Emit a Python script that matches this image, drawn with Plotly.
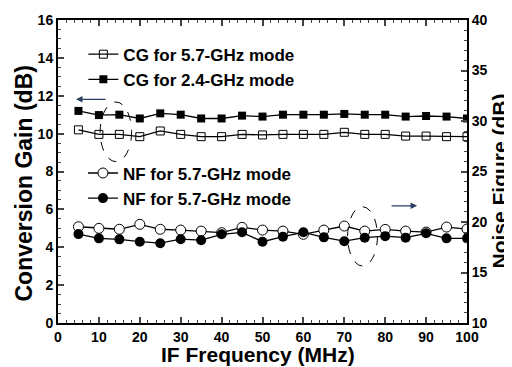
import plotly.graph_objects as go

freq = [5, 10, 15, 20, 25, 30, 35, 40, 45, 50, 55, 60, 65, 70, 75, 80, 85, 90, 95, 100]
cg_57 = [10.2, 9.96, 9.96, 9.84, 10.14, 9.96, 9.84, 9.84, 9.96, 9.93, 9.96, 9.96, 9.96, 10.07, 9.96, 9.96, 9.87, 9.87, 9.84, 9.84]
cg_24 = [11.2, 10.98, 11.0, 10.8, 11.07, 11.0, 10.8, 10.8, 10.95, 10.9, 11.0, 11.0, 11.0, 11.04, 11.0, 11.0, 10.9, 10.93, 10.9, 10.8]
nf_a = [19.53, 19.37, 19.28, 19.77, 19.28, 19.2, 19.1, 18.94, 19.47, 19.2, 19.1, 18.78, 19.2, 19.6, 19.1, 19.27, 19.1, 19.0, 19.5, 19.3]
nf_b = [18.8, 18.38, 18.28, 18.05, 17.9, 18.3, 18.2, 18.78, 18.98, 18.05, 18.55, 18.98, 18.48, 18.1, 18.45, 18.6, 18.45, 18.88, 18.38, 18.38]

FONT = "Liberation Sans, Arial, sans-serif"

fig = go.Figure()
fig.add_trace(go.Scatter(x=freq, y=cg_57, mode="lines+markers", name="<b>CG for 5.7-GHz mode</b>",
                         line=dict(color="black", width=1.3),
                         marker=dict(symbol="square-open", size=8, color="black", line=dict(width=1)),
                         legend="legend"))
fig.add_trace(go.Scatter(x=freq, y=cg_24, mode="lines+markers", name="<b>CG for 2.4-GHz mode</b>",
                         line=dict(color="black", width=1.3),
                         marker=dict(symbol="square", size=8, color="black"),
                         legend="legend"))
fig.add_trace(go.Scatter(x=freq, y=nf_a, mode="lines+markers", name="<b>NF for 5.7-GHz mode</b>",
                         yaxis="y2", line=dict(color="black", width=1.3),
                         marker=dict(symbol="circle", size=10, color="white", line=dict(width=1, color="black")),
                         legend="legend2"))
fig.add_trace(go.Scatter(x=freq, y=nf_b, mode="lines+markers", name="<b>NF for 5.7-GHz mode</b>",
                         yaxis="y2", line=dict(color="black", width=1.3),
                         marker=dict(symbol="circle", size=10, color="black"),
                         legend="legend2"))

# ellipses
fig.add_shape(type="circle", xref="x", yref="y", x0=10.3, x1=18.0, y0=8.52, y1=11.67,
              line=dict(color="black", width=1, dash="dash"))
fig.add_shape(type="circle", xref="x", yref="y", x0=70.8, x1=78.1, y0=3.01, y1=6.14,
              line=dict(color="black", width=1, dash="dash"))

# arrows
fig.add_annotation(x=4.4, y=11.81, ax=12, ay=11.81, xref="x", yref="y", axref="x", ayref="y",
                   showarrow=True, arrowhead=2, arrowsize=1, arrowwidth=1.3, text="")
fig.add_annotation(x=87.8, y=6.19, ax=81.2, ay=6.19, xref="x", yref="y", axref="x", ayref="y",
                   showarrow=True, arrowhead=2, arrowsize=1, arrowwidth=1.3, text="")

# axis titles as annotations for precise placement
fig.add_annotation(text="<b>Conversion Gain (dB)</b>", xref="paper", yref="paper", x=0, y=0.5,
                   xanchor="center", yanchor="middle", xshift=-35, yshift=-12, textangle=-90,
                   showarrow=False, font=dict(family=FONT, size=23, color="black"))
fig.add_annotation(text="<b>Noise Figure (dB)</b>", xref="paper", yref="paper", x=1, y=0.5,
                   xanchor="center", yanchor="middle", xshift=32, yshift=-10, textangle=-90,
                   showarrow=False, font=dict(family=FONT, size=21, color="black"))
fig.add_annotation(text="<b>IF Frequency (MHz)</b>", xref="paper", yref="paper", x=0.5, y=0,
                   xanchor="center", yanchor="middle", xshift=-5, yshift=-31,
                   showarrow=False, font=dict(family=FONT, size=21, color="black"))

tickfont = dict(family=FONT, size=14, color="black")
legfont = dict(family=FONT, size=17, color="black")

# page body has an 8px margin; size the figure so the plot area lands where the reference has it
fig.update_layout(
    width=504, height=359,
    margin=dict(l=50, r=45, t=12, b=44),
    plot_bgcolor="white", paper_bgcolor="white",
    font=dict(family=FONT, color="black"),
    showlegend=True,
    legend=dict(x=0.062, y=0.945, xanchor="left", yanchor="top", bgcolor="rgba(0,0,0,0)",
                font=legfont, itemwidth=30, tracegroupgap=0),
    legend2=dict(x=0.061, y=0.553, xanchor="left", yanchor="top", bgcolor="rgba(0,0,0,0)",
                 font=legfont, itemwidth=30, tracegroupgap=0),
    xaxis=dict(range=[0, 100], dtick=10, tick0=0, ticks="inside", ticklen=6, tickwidth=1.5,
               showline=True, linewidth=2, linecolor="black", mirror="ticks", showgrid=False, zeroline=False,
               minor=dict(dtick=2, ticks="inside", ticklen=3, tickwidth=1.2, showgrid=False),
               tickfont=tickfont, tickprefix="<b>", ticksuffix="</b>", automargin=False),
    yaxis=dict(range=[0, 16], dtick=2, ticks="inside", ticklen=6, tickwidth=1.5,
               showline=True, linewidth=2, linecolor="black", showgrid=False, zeroline=False,
               minor=dict(dtick=0.5, ticks="inside", ticklen=3, tickwidth=1.2, showgrid=False),
               tickfont=tickfont, tickprefix="<b>", ticksuffix="</b>", automargin=False),
    yaxis2=dict(range=[10, 40], dtick=5, overlaying="y", side="right", ticks="inside", ticklen=6, tickwidth=1.5,
                showline=True, linewidth=2, linecolor="black", showgrid=False, zeroline=False,
                minor=dict(dtick=1, ticks="inside", ticklen=3, tickwidth=1.2, showgrid=False),
                tickfont=tickfont, tickprefix="<b>", ticksuffix="</b>", automargin=False),
)

fig.write_html("out.html")
